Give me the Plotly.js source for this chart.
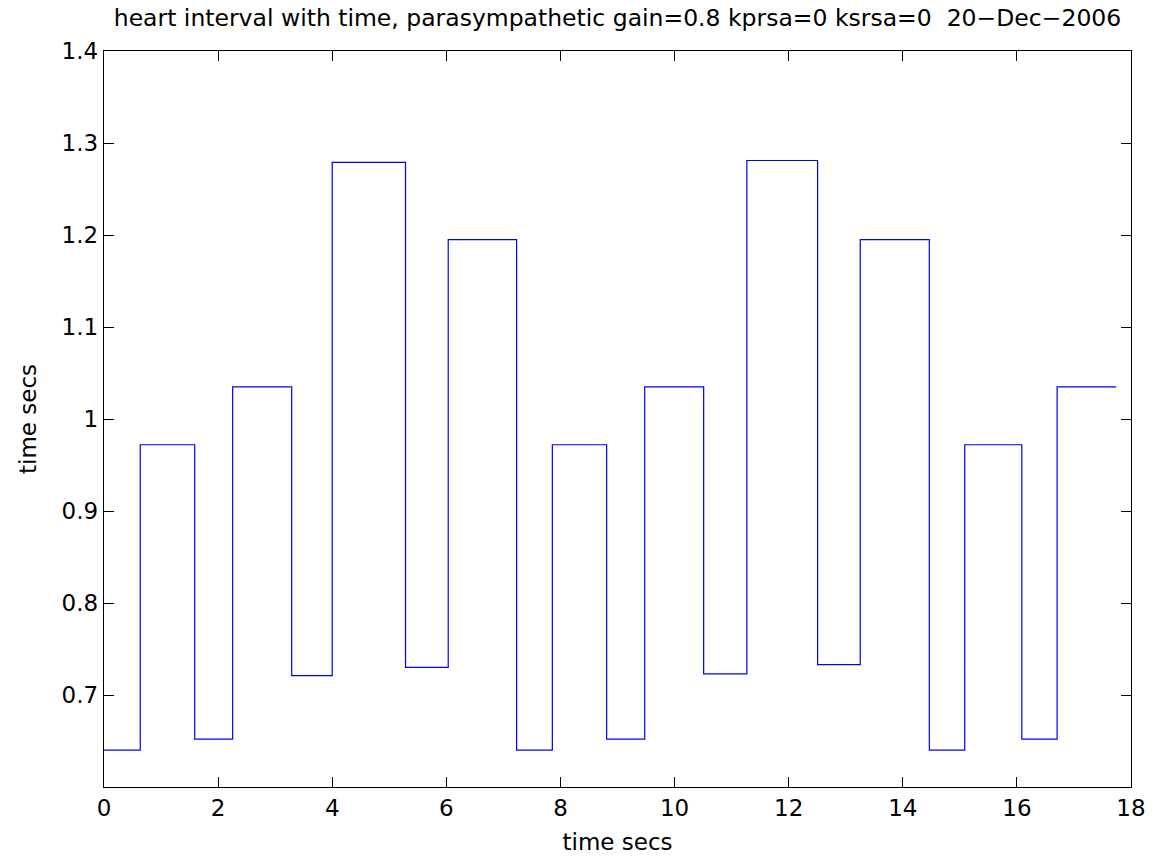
<!DOCTYPE html>
<html>
<head>
<meta charset="utf-8">
<script src="https://cdn.plot.ly/plotly-3.0.1.min.js"></script>
<style>html,body{margin:0;padding:0;background:#fff;}#chart{width:1172px;height:858px;}</style>
</head>
<body>
<div id="chart"></div>
<script>
// step edge times (s) and heart interval values (s)
var stepTimes = [0, 0.635, 1.59, 2.255, 3.29, 4.0, 5.285, 6.033, 7.232, 7.858, 8.81, 9.477, 10.51, 11.267, 12.507, 13.255, 14.465, 15.086, 16.086, 16.705, 17.74];
var heartInterval = [0.64, 0.972, 0.652, 1.035, 0.721, 1.279, 0.730, 1.195, 0.64, 0.972, 0.652, 1.035, 0.723, 1.281, 0.733, 1.195, 0.64, 0.972, 0.652, 1.035, 1.035];
var xTicks = [0, 2, 4, 6, 8, 10, 12, 14, 16, 18];
var yTicks = [0.7, 0.8, 0.9, 1, 1.1, 1.2, 1.3, 1.4];
var titleText = "heart interval with time, parasympathetic gain=0.8 kprsa=0 ksrsa=0  20\u2212Dec\u22122006";

var trace = {
  x: stepTimes, y: heartInterval, type: 'scatter', mode: 'lines',
  line: {shape: 'hv', color: '#0000ff', width: 1.2},
  hoverinfo: 'skip'
};
var fam = 'DejaVu Sans, Liberation Sans, Arial, sans-serif';
var fnt = {family: fam, size: 23, color: '#000'};
var layout = {
  width: 1172, height: 858,
  margin: {l: 104, r: 41, t: 51, b: 71},
  paper_bgcolor: '#fff', plot_bgcolor: '#fff',
  showlegend: false,
  font: fnt,
  title: {text: titleText, font: {family: fam, size: 23.5, color: '#000'}, xref: 'paper', x: 0.5, xanchor: 'center', yref: 'container', y: 1 - 18/858, yanchor: 'middle'},
  xaxis: {
    range: [0, 18], tickvals: xTicks, ticktext: xTicks.map(String),
    ticks: 'inside', ticklen: 10, tickwidth: 1, tickcolor: '#000',
    showline: true, linecolor: '#000', linewidth: 1.2, mirror: 'ticks',
    showgrid: false, zeroline: false,
    tickfont: fnt,
    title: {text: 'time secs', font: fnt, standoff: 14}
  },
  yaxis: {
    range: [0.6, 1.4], tickvals: yTicks, ticktext: yTicks.map(String),
    ticks: 'inside', ticklen: 10, tickwidth: 1, tickcolor: '#000',
    showline: true, linecolor: '#000', linewidth: 1.2, mirror: 'ticks',
    showgrid: false, zeroline: false,
    tickfont: fnt,
    title: {text: 'time secs', font: fnt, standoff: 18}
  }
};
Plotly.newPlot('chart', [trace], layout, {displayModeBar: false, staticPlot: true});
</script>
</body>
</html>
